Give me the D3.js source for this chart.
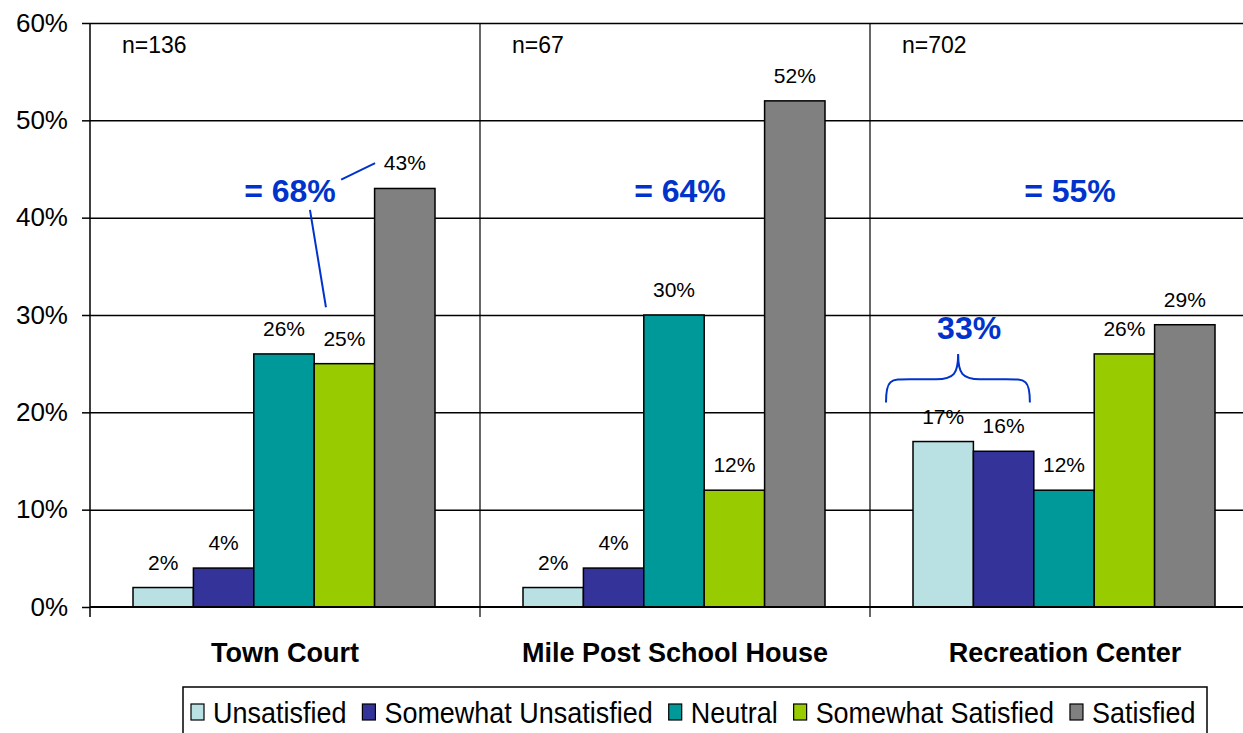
<html>
<script src="https://d3js.org/d3.v7.min.js"></script>
<style>
    body { margin: 0; background: #fff; }
    text { font-family: "Liberation Sans", Arial, sans-serif; }
</style>
<body>
<svg id="chart" width="1243" height="733"></svg>
<script>
// chart data
var sites = ["Town Court", "Mile Post School House", "Recreation Center"];
var sampleSizes = ["n=136", "n=67", "n=702"];
var ratings = ["Unsatisfied", "Somewhat Unsatisfied", "Neutral", "Somewhat Satisfied", "Satisfied"];
var unsatisfied = [0.02, 0.02, 0.17];
var somewhatUnsatisfied = [0.04, 0.04, 0.16];
var neutral = [0.26, 0.30, 0.12];
var somewhatSatisfied = [0.25, 0.12, 0.26];
var satisfied = [0.43, 0.52, 0.29];
var satisfiedTotals = ["= 68%", "= 64%", "= 55%"];
var yTicks = [0, 0.1, 0.2, 0.3, 0.4, 0.5, 0.6];
var colors = ["#b9e0e3", "#333399", "#009999", "#99cc00", "#808080"];

var series = [unsatisfied, somewhatUnsatisfied, neutral, somewhatSatisfied, satisfied];

var svg = d3.select("#chart");
var margin = {top: 23, left: 90},
    plotW = 1170,
    plotH = 584;

var g = svg.append("g").attr("transform", "translate(" + margin.left + "," + margin.top + ")");

var x0 = d3.scaleBand().domain(sites).range([0, plotW]).paddingInner(0).paddingOuter(0);
var x1 = d3.scaleBand().domain(ratings).range([43, x0.bandwidth() - 45]).padding(0);
var y = d3.scaleLinear().domain([0, 0.6]).range([plotH, 0]);

// gridlines
g.append("g")
    .call(d3.axisLeft(y).tickValues(yTicks.slice(1)).tickSize(-plotW).tickFormat(""))
    .call(function(s) {
        s.select(".domain").remove();
        s.selectAll("line").attr("stroke", "#000").attr("stroke-width", 1.5);
    });

// category separators
g.selectAll(".sep")
    .data(sites.slice(1))
    .enter().append("line")
    .attr("x1", function(d) { return x0(d); })
    .attr("x2", function(d) { return x0(d); })
    .attr("y1", 0).attr("y2", plotH + 10)
    .attr("stroke", "#000").attr("stroke-width", 1.2);

// bars
var groups = g.selectAll(".site")
    .data(sites)
    .enter().append("g")
    .attr("transform", function(d) { return "translate(" + x0(d) + ",0)"; });

groups.selectAll("rect")
    .data(function(d, i) { return ratings.map(function(r, k) { return {r: r, v: series[k][i], k: k}; }); })
    .enter().append("rect")
    .attr("x", function(d) { return x1(d.r); })
    .attr("width", x1.bandwidth())
    .attr("y", function(d) { return y(d.v); })
    .attr("height", function(d) { return plotH - y(d.v); })
    .attr("fill", function(d) { return colors[d.k]; })
    .attr("stroke", "#000").attr("stroke-width", 1.5);

groups.selectAll(".val")
    .data(function(d, i) { return ratings.map(function(r, k) { return {r: r, v: series[k][i]}; }); })
    .enter().append("text")
    .attr("x", function(d) { return x1(d.r) + x1.bandwidth() / 2; })
    .attr("y", function(d) { return y(d.v) - 18; })
    .attr("text-anchor", "middle")
    .style("font-size", "21px")
    .text(function(d) { return Math.round(d.v * 100) + "%"; });

// n= labels
groups.append("text")
    .attr("x", 32).attr("y", 30)
    .style("font-size", "23px")
    .text(function(d, i) { return sampleSizes[i]; });

// satisfied totals
groups.append("text")
    .attr("x", x0.bandwidth() / 2 + 5)
    .attr("y", y(0.416))
    .attr("text-anchor", "middle")
    .style("font-size", "32px").style("font-weight", "bold")
    .attr("fill", "#0033cc")
    .text(function(d, i) { return satisfiedTotals[i]; });

// leader lines for Town Court
var bx = function(site, f) { return x0(site) + f * x0.bandwidth(); };
var leaders = [
    [[0.644, 0.439], [0.731, 0.456]],
    [[0.564, 0.408], [0.605, 0.308]]
];
leaders.forEach(function(l) {
    g.append("line")
        .attr("x1", bx(sites[0], l[0][0])).attr("y1", y(l[0][1]))
        .attr("x2", bx(sites[0], l[1][0])).attr("y2", y(l[1][1]))
        .attr("stroke", "#0033cc").attr("stroke-width", 2);
});

// brace for Recreation Center unsatisfied
var s2 = sites[2];
var bl = bx(s2, 0.041), bm = bx(s2, 0.226), br = bx(s2, 0.41);
var yEnd = y(0.21), yMid = y(0.234), yTip = y(0.26);
var brace = d3.path();
brace.moveTo(bl, yEnd);
brace.bezierCurveTo(bl, yMid, bl + 4, yMid, bl + 24, yMid);
brace.lineTo(bm - 22, yMid);
brace.bezierCurveTo(bm - 4, yMid, bm, yMid - 6, bm, yTip);
brace.bezierCurveTo(bm, yMid - 6, bm + 4, yMid, bm + 22, yMid);
brace.lineTo(br - 24, yMid);
brace.bezierCurveTo(br - 4, yMid, br, yMid, br, yEnd);
g.append("path").attr("d", brace.toString())
    .attr("fill", "none").attr("stroke", "#0033cc").attr("stroke-width", 2);

g.append("text")
    .attr("x", bm + 11).attr("y", y(0.275))
    .attr("text-anchor", "middle")
    .style("font-size", "32px").style("font-weight", "bold")
    .attr("fill", "#0033cc")
    .text("33%");

// y axis
g.append("g")
    .call(d3.axisLeft(y).tickValues(yTicks).tickSize(8).tickPadding(14).tickFormat(d3.format(".0%")))
    .call(function(s) {
        s.select(".domain").attr("d", "M0,0V" + (plotH + 10)).attr("stroke", "#000").attr("stroke-width", 1.5);
        s.selectAll("line").attr("stroke", "#000").attr("stroke-width", 1.5);
        s.selectAll("text").style("font-size", "26px").attr("fill", "#000")
            .style("font-family", "'Liberation Sans', Arial, sans-serif");
    });

// x baseline and category labels
g.append("line").attr("x1", 0).attr("x2", plotW).attr("y1", plotH).attr("y2", plotH)
    .attr("stroke", "#000").attr("stroke-width", 2);

g.selectAll(".cat")
    .data(sites)
    .enter().append("text")
    .attr("x", function(d) { return x0(d) + x0.bandwidth() / 2; })
    .attr("y", plotH + 55)
    .attr("text-anchor", "middle")
    .style("font-size", "27px").style("font-weight", "bold")
    .text(function(d) { return d; });

// legend
var legend = svg.append("g");
legend.append("rect")
    .attr("x", 183).attr("y", 687).attr("width", 1024).attr("height", 60)
    .attr("fill", "#fff").attr("stroke", "#000").attr("stroke-width", 1.5);
var lx = 191;
ratings.forEach(function(r, k) {
    legend.append("rect")
        .attr("x", lx).attr("y", 704).attr("width", 13).attr("height", 16)
        .attr("fill", colors[k]).attr("stroke", "#000").attr("stroke-width", 1.2);
    var t = legend.append("text")
        .attr("transform", "translate(" + (lx + 22) + ",723) scale(0.93,1)")
        .style("font-size", "29px")
        .text(r);
    lx += 22 + t.node().getComputedTextLength() * 0.93 + 16;
});
</script>
</body>
</html>
